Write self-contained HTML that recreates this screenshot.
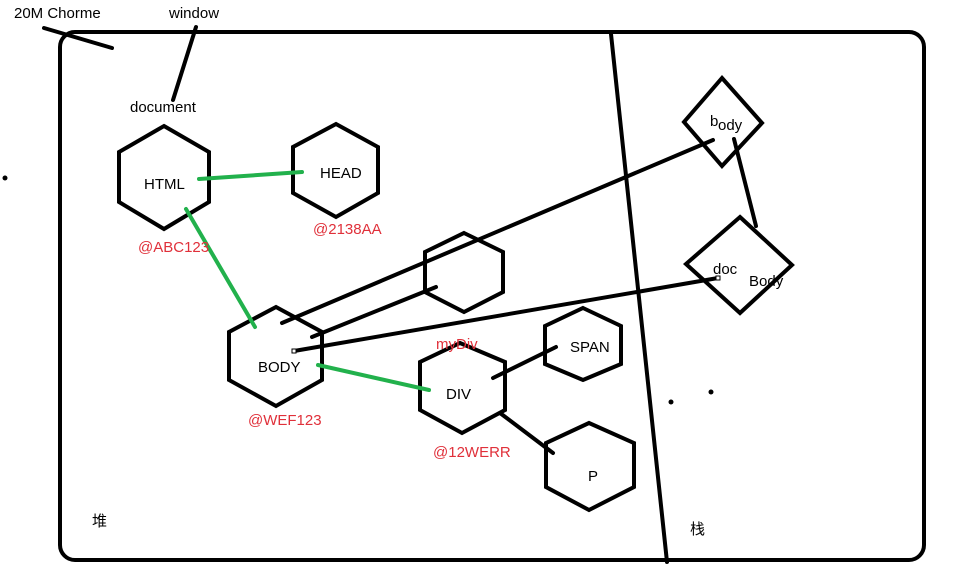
<!DOCTYPE html>
<html><head><meta charset="utf-8"><style>
html,body{margin:0;padding:0;background:#fff;width:953px;height:575px;overflow:hidden}
svg text{font-family:"Liberation Sans","Noto Sans CJK SC",sans-serif;font-size:15px;fill:#000}
.r{fill:#e0303a}
</style></head><body>
<svg width="953" height="575" viewBox="0 0 953 575" xmlns="http://www.w3.org/2000/svg">
<g fill="none" stroke="#000" stroke-width="4" stroke-linecap="round" stroke-linejoin="miter">
<rect x="60" y="32" width="864" height="528" rx="15" ry="15"/>
<line x1="611" y1="34" x2="667" y2="562"/>
<line x1="44" y1="28" x2="112" y2="48"/>
<line x1="196" y1="27" x2="173" y2="100"/>
<polygon points="164,126 209,152 209,202 164,229 119,202 119,152"/>
<polygon points="336,124 378,147 378,193 336,217 293,193 293,147"/>
<polygon points="464,233 503,252 503,292 464,312 425,292 425,252"/>
<polygon points="276,307 322,332 322,380 276,406 229,380 229,332"/>
<polygon points="460,343 505,362 505,410 462,433 420,410 420,362"/>
<polygon points="583,308 621,326 621,364 583,380 545,364 545,326"/>
<polygon points="589,423 634,443 634,487 589,510 546,487 546,443"/>
<polygon points="722,78 762,123 722,166 684,122"/>
<polygon points="740,217 792,265 740,313 686,264"/>
<line x1="282" y1="323" x2="713" y2="140"/>
<line x1="312" y1="337" x2="436" y2="287"/>
<line x1="294" y1="351" x2="718" y2="278"/>
<line x1="734" y1="139" x2="756" y2="226"/>
<line x1="493" y1="378" x2="556" y2="347"/>
<line x1="500" y1="413" x2="553" y2="453"/>
</g>
<g fill="none" stroke="#22b14c" stroke-width="4" stroke-linecap="round">
<line x1="199" y1="179" x2="302" y2="172"/>
<line x1="186" y1="209" x2="255" y2="327"/>
<line x1="318" y1="365" x2="429" y2="390"/>
</g>
<rect x="292" y="349" width="4" height="4" fill="#fff" stroke="#000" stroke-width="1"/>
<rect x="716" y="276" width="4" height="4" fill="#fff" stroke="#000" stroke-width="1"/>
<circle cx="5" cy="178" r="2.5" fill="#000"/>
<circle cx="671" cy="402" r="2.5" fill="#000"/>
<circle cx="711" cy="392" r="2.5" fill="#000"/>
<text x="14" y="18">20M Chorme</text>
<text x="169" y="18">window</text>
<text x="130" y="112">document</text>
<text x="144" y="189">HTML</text>
<text x="320" y="178">HEAD</text>
<text x="258" y="372">BODY</text>
<text x="446" y="399">DIV</text>
<text x="570" y="352">SPAN</text>
<text x="588" y="481">P</text>
<text x="710" y="126">b</text><text x="718" y="130">ody</text>
<text x="713" y="274">doc</text>
<text x="749" y="286">Body</text>
<text class="r" x="138" y="252">@ABC123</text>
<text class="r" x="313" y="234">@2138AA</text>
<text class="r" x="436" y="349">myDiv</text>
<text class="r" x="248" y="425">@WEF123</text>
<text class="r" x="433" y="457">@12WERR</text>
<text x="92" y="526">堆</text>
<text x="690" y="534">栈</text>
</svg>
</body></html>
